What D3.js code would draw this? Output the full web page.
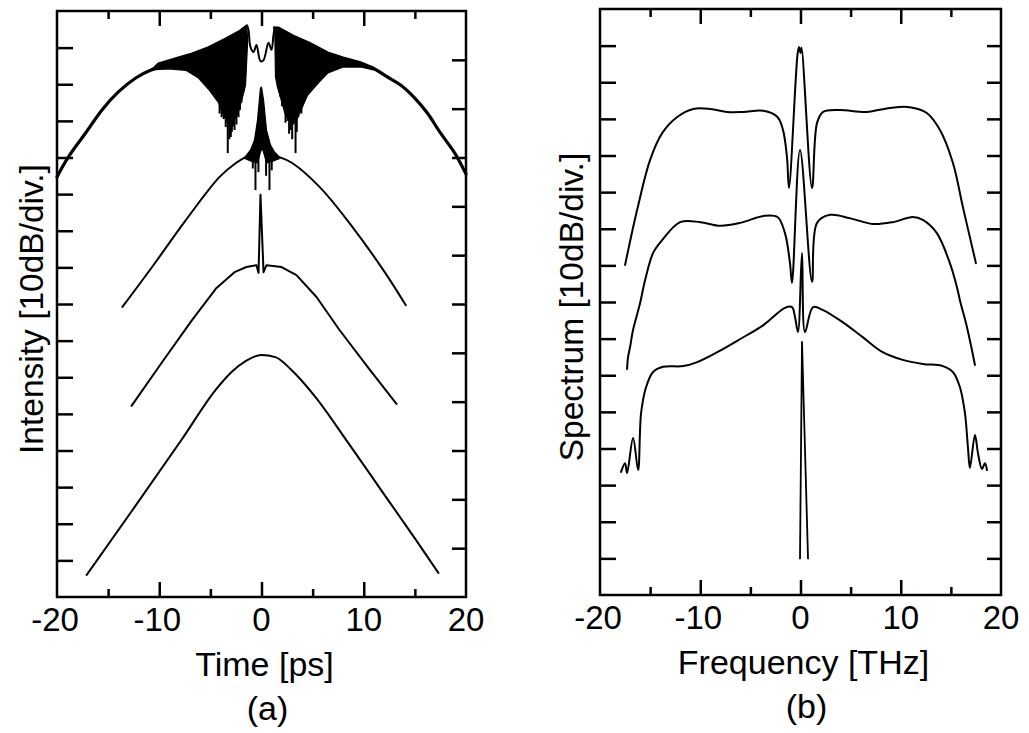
<!DOCTYPE html>
<html>
<head>
<meta charset="utf-8">
<script src="https://cdn.jsdelivr.net/npm/d3@7"></script>
<style>
  body { margin: 0; background: #fff; }
  text { font-family: "Liberation Sans", Arial, sans-serif; fill: #000; }
</style>
</head>
<body>
<div class="canvas"></div>
<script>
// ---- data : [x, dB] ----
// (a) temporal intensity, four propagation distances
const p1OuterLeft  = [[-20,-45.3],[-18.9,-39.9],[-17.2,-33.3],[-15.6,-27.0],[-14.0,-22.1],[-12.3,-18.3],[-10.8,-16.1],[-9.6,-15.2]]
const p1OuterRight = [[9.9,-14.9],[10.95,-15.7],[12.3,-18.0],[13.6,-20.2],[14.9,-23.5],[16.2,-27.8],[17.5,-33.3],[18.9,-38.8],[20,-44.5]]
const p1FillLeft  = [[-10.8,-16.1],[-10.1,-14.2],[-8.4,-12.8],[-6.8,-11.5],[-5.2,-9.8],[-3.5,-7.4],[-2.25,-5.5],[-1.75,-4.4],[-1.45,-3.8],
                     [-1.35,-8],[-1.56,-20.2],[-1.9,-24],[-2.3,-28],[-2.8,-30.5],[-3.3,-30.5],[-3.8,-28],[-4.2,-25],
                     [-5.2,-21.3],[-6.2,-18.2],[-7.4,-16.2],[-9.1,-15.8]]
const p1FillRight = [[1.3,-6],[1.17,-4.4],[1.66,-4.4],[3.13,-6.6],[4.8,-8.7],[6.5,-11.2],[8.0,-12.6],[9.7,-13.9],[10.95,-15.3],
                     [10.95,-16.1],[9.7,-15.3],[8.0,-15.3],[6.5,-16.9],[5.5,-19.8],[4.5,-23],[3.8,-27.5],[3.3,-30.5],
                     [2.8,-30.5],[2.3,-28],[1.9,-24],[1.56,-20.8],[1.37,-18.0]]
const p1Centre = [[-1.4,-4.0],[-1.27,-5.2],[-1.08,-9.8],[-0.78,-11.2],[-0.49,-9.3],[-0.1,-13.7],[0.2,-13.4],[0.68,-8.7],[0.98,-10.6],[1.17,-6.6],[1.3,-4.5]]
const p1Spikes = [[-4.1,-28],[-3.9,-29],[-3.7,-29.5],[-3.5,-31.7],[-3.3,-38.8],[-3.15,-35],[-3.0,-34.4],[-2.9,-33],[-2.8,-31.5],[-2.64,-32.5],
                  [-2.45,-31],[-2.25,-29],[-2.1,-27],[-1.96,-25],[-1.75,-22],
                  [1.86,-23.5],[2.0,-26],[2.35,-30.5],[2.54,-30],[2.7,-33.5],[2.84,-32.5],[3.0,-35],[3.13,-31],[3.33,-38.8],
                  [3.45,-33],[3.6,-29],[3.9,-28]]
const p2Left  = [[-13.6,-80.8],[-10.7,-69.9],[-7.4,-57.1],[-4.1,-45.3],[-2.5,-41.5],[-1.56,-39.9]]
const p2Right = [[1.76,-39.9],[3.0,-41.5],[5.7,-48.1],[8.9,-59.0],[12.1,-71.5],[14.1,-80.3]]
const p2Fill  = [[-1.7,-40.2],[-1.08,-38.0],[-0.68,-35.2],[-0.39,-29.8],[-0.1,-21.0],[0,-20.8],[0.2,-24.3],[0.49,-32.5],[0.88,-36.6],
                 [1.27,-38.5],[1.85,-40.2],[1.1,-41],[0.5,-41.5],[0.2,-38.5],[0.05,-37.5],[-0.1,-38.5],[-0.4,-41.5],[-1.0,-41]]
const p2Spikes = [[-0.59,-48.9],[0.78,-48.9],[-0.3,-44],[0.45,-45],[-0.85,-43],[1.0,-43.5]]
const p3 = [[-12.71,-107.8],[-9.78,-96.1],[-6.85,-84.6],[-4.4,-75.6],[-2.64,-71.3],[-1.47,-69.9],[-0.49,-69.4],[-0.29,-71.5],[-0.1,-50.2],
            [0.2,-71.3],[0.49,-69.4],[1.96,-69.9],[3.42,-72.1],[5.38,-78.1],[7.63,-87.1],[10.47,-97.5],[13.2,-107.3]]
const p4 = [[-17.1,-154.0],[-12.7,-136.6],[-7.8,-117.0],[-4.5,-103.5],[-2.9,-98.5],[-1.56,-95.6],[0,-93.9],[1.37,-94.5],[2.93,-98.0],
            [5.28,-105.4],[8.5,-118.0],[11.7,-130.8],[15.0,-144.0],[17.3,-153.4]]

// (b) spectra
const s1 = [[-17.5,-69.9],[-16.3,-54.9],[-15.0,-41.2],[-13.8,-33.9],[-12.3,-29.5],[-10.7,-27.3],[-9.0,-27.3],[-7.3,-28.1],[-5.7,-28.1],
            [-3.7,-27.8],[-2.3,-29.5],[-1.75,-33.0],[-1.35,-40.4],[-1.15,-48.9],[-0.3,-12.5],[-0.15,-10.4],[0,-12],[0.1,-10.6],
            [1.15,-48.9],[1.65,-31.1],[2.25,-28.1],[3.9,-27.6],[6.6,-28.1],[8.9,-27.0],[10.9,-26.8],[12.6,-28.4],[13.9,-33.0],
            [15.2,-42.0],[16.2,-54.1],[17.5,-69.4]]
const s2 = [[-17.3,-98.3],[-17.2,-95.0],[-17.0,-92.3],[-16.7,-87.6],[-16.0,-80.3],[-15.5,-74.0],[-14.7,-66.6],[-13.8,-63.1],[-12.0,-58.2],
            [-10.0,-58.2],[-8.0,-59.2],[-6.0,-58.4],[-3.7,-56.5],[-2.3,-56.8],[-1.55,-61.2],[-1.05,-69.4],[-0.85,-74.8],[-0.05,-38.5],
            [1.15,-74.5],[1.65,-58.4],[2.95,-56.2],[4.9,-57.1],[7.2,-58.7],[9.2,-58.2],[11.2,-56.8],[12.2,-57.6],[13.6,-61.2],
            [14.9,-69.4],[15.6,-75.9],[15.9,-79.5],[16.6,-86.8],[17.1,-93.1],[17.4,-97.2]]
const s3 = [[-17.9,-126.4],[-17.5,-124.0],[-17.3,-126.7],[-16.7,-117.1],[-16.2,-125.9],[-15.9,-110.3],[-15.4,-103.2],[-14.7,-99.1],
            [-13.7,-97.7],[-11.7,-97.5],[-10.3,-96.4],[-8.3,-93.7],[-6.0,-90.1],[-3.7,-86.3],[-1.55,-81.6],[-0.85,-81.4],[-0.55,-84.1],
            [-0.25,-88.2],[0.15,-66.6],[0.45,-88.2],[1.25,-81.4],[2.25,-82.2],[4.2,-85.5],[6.2,-89.6],[8.2,-93.7],[10.2,-95.8],
            [12.2,-96.9],[14.2,-97.5],[15.2,-99.1],[15.9,-103.2],[16.4,-110.3],[16.7,-119.6],[16.9,-125.3],[17.4,-116.3],
            [17.7,-121.2],[18.1,-125.6],[18.4,-124.0],[18.6,-125.9]]
const s4 = [[-0.05,-150],[0.15,-90.9],[0.75,-150]]

const xTicksMajor = [-10, 0, 10]
const xTicksMinor = [-15, -5, 5, 15]
const xLabels = [-20, -10, 0, 10, 20]

// ---- layout ----
const svg = d3.select(".canvas").append("svg").attr("width", 1029).attr("height", 733)

const panels = [
  { left: 57, right: 466, top: 11, bottom: 597, rightDivs: 12, xTitle: "Time [ps]", yTitle: "Intensity [10dB/div.]", tag: "(a)", yTitleX: 43 },
  { left: 600, right: 1001, top: 9, bottom: 595, rightDivs: 16, xTitle: "Frequency [THz]", yTitle: "Spectrum [10dB/div.]", tag: "(b)", yTitleX: 583 }
]

const scales = panels.map(p => ({
  x: d3.scaleLinear().domain([-20, 20]).range([p.left, p.right]),
  y: d3.scaleLinear().domain([-160, 0]).range([p.bottom, p.top])
}))

panels.forEach((p, i) => {
  const { x, y } = scales[i]
  const g = svg.append("g")
  const yR = d3.scaleLinear().domain([0, p.rightDivs]).range([p.bottom, p.top])

  const tickStyle = sel => {
    sel.select(".domain").remove()
    sel.selectAll("line").attr("stroke", "#000").attr("stroke-width", 2.5)
    sel.selectAll("text").remove()
  }
  g.append("g").attr("transform", `translate(0,${p.bottom})`)
    .call(d3.axisBottom(x).tickValues(xTicksMajor).tickSize(-15)).call(tickStyle)
  g.append("g").attr("transform", `translate(0,${p.bottom})`)
    .call(d3.axisBottom(x).tickValues(xTicksMinor).tickSize(-8)).call(tickStyle)
  g.append("g").attr("transform", `translate(0,${p.top})`)
    .call(d3.axisTop(x).tickValues(xTicksMajor).tickSize(-15)).call(tickStyle)
  g.append("g").attr("transform", `translate(0,${p.top})`)
    .call(d3.axisTop(x).tickValues(xTicksMinor).tickSize(-8)).call(tickStyle)
  g.append("g").attr("transform", `translate(${p.left},0)`)
    .call(d3.axisLeft(y).tickValues(d3.range(-150, 0, 10)).tickSize(-16)).call(tickStyle)
  g.append("g").attr("transform", `translate(${p.right},0)`)
    .call(d3.axisRight(yR).tickValues(d3.range(1, p.rightDivs)).tickSize(-14)).call(tickStyle)

  g.append("rect")
    .attr("x", p.left).attr("y", p.top)
    .attr("width", p.right - p.left).attr("height", p.bottom - p.top)
    .attr("fill", "none").attr("stroke", "#000").attr("stroke-width", 2.5)

  g.selectAll(".xl").data(xLabels).enter().append("text")
    .attr("x", d => x(d) + (d < 0 ? -2 : 0)).attr("y", p.bottom + 34)
    .attr("text-anchor", "middle").attr("font-size", 33)
    .text(d => d)

  g.append("text").attr("x", (p.left + p.right) / 2 + 3).attr("y", p.bottom + 79)
    .attr("text-anchor", "middle").attr("font-size", 34).text(p.xTitle)
  g.append("text").attr("x", (p.left + p.right) / 2 + 6).attr("y", p.bottom + 123)
    .attr("text-anchor", "middle").attr("font-size", 34).text(p.tag)
  g.append("text")
    .attr("transform", `translate(${p.yTitleX},${(p.top + p.bottom) / 2 + 5}) rotate(-90)`)
    .attr("text-anchor", "middle").attr("font-size", 33.5).text(p.yTitle)
})

// ---- curves ----
const drawLine = (i, data, width, curve) => {
  const { x, y } = scales[i]
  const line = d3.line().x(d => x(d[0])).y(d => y(d[1])).curve(curve || d3.curveCatmullRom.alpha(0.5))
  svg.append("path").datum(data).attr("d", line)
    .attr("fill", "none").attr("stroke", "#000").attr("stroke-width", width)
    .attr("stroke-linejoin", "round").attr("stroke-linecap", "round")
}
const drawFill = (i, data) => {
  const { x, y } = scales[i]
  const line = d3.line().x(d => x(d[0])).y(d => y(d[1])).curve(d3.curveLinearClosed)
  svg.append("path").datum(data).attr("d", line)
    .attr("fill", "#000").attr("stroke", "#000").attr("stroke-width", 1.2).attr("stroke-linejoin", "round")
}
const drawSpikes = (i, data, from) => {
  const { x, y } = scales[i]
  svg.append("g").selectAll("line").data(data).enter().append("line")
    .attr("x1", d => x(d[0])).attr("x2", d => x(d[0]))
    .attr("y1", y(from)).attr("y2", d => y(d[1]))
    .attr("stroke", "#000").attr("stroke-width", 2)
}

// (a)
drawLine(0, p1OuterLeft, 3.2)
drawLine(0, p1OuterRight, 3.2)
drawFill(0, p1FillLeft)
drawFill(0, p1FillRight)
drawLine(0, p1Centre, 2)
drawSpikes(0, p1Spikes, -18)
drawLine(0, p2Left, 2)
drawLine(0, p2Right, 2)
drawFill(0, p2Fill)
drawSpikes(0, p2Spikes, -39)
drawLine(0, p3, 2, d3.curveLinear)
drawLine(0, p4, 2, d3.curveMonotoneX)

// (b)
drawLine(1, s1, 2)
drawLine(1, s2, 2)
drawLine(1, s3, 2)
drawLine(1, s4, 1.8, d3.curveLinear)
</script>
</body>
</html>
